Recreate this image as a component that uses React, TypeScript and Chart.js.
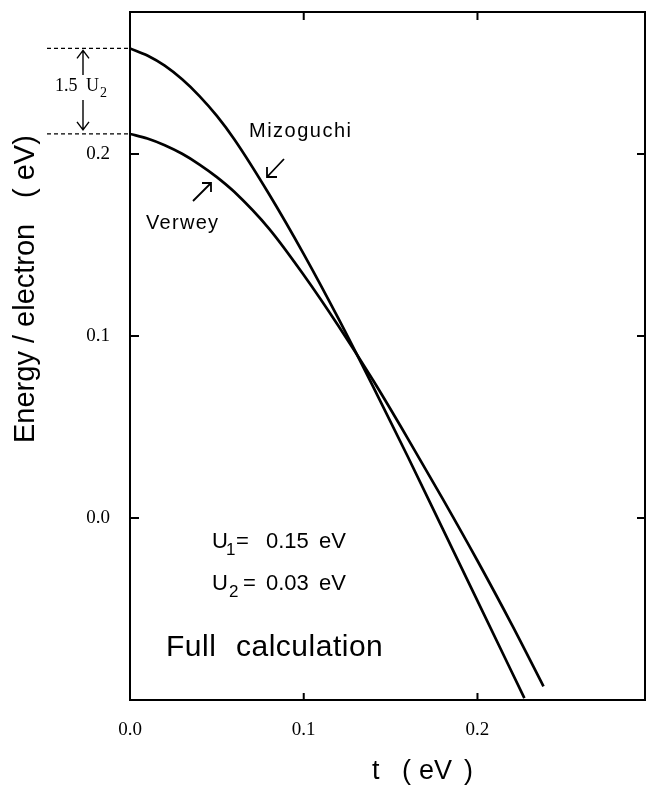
import { useEffect, useRef } from 'react';
import { Chart, registerables } from 'chart.js';

Chart.register(...registerables);

// ---- data ----
const mizoguchiT = [0, 0.01, 0.02, 0.03, 0.04, 0.05, 0.06, 0.08, 0.1, 0.12, 0.14, 0.16, 0.18, 0.2, 0.227];
const mizoguchiE = [0.258, 0.2541, 0.2485, 0.241, 0.2318, 0.2209, 0.2081, 0.178, 0.145, 0.1095, 0.072, 0.0335, -0.006, -0.0455, -0.099];
const verweyT = [0, 0.01, 0.02, 0.03, 0.04, 0.05, 0.06, 0.08, 0.1, 0.12, 0.14, 0.16, 0.18, 0.2, 0.22, 0.238];
const verweyE = [0.211, 0.2085, 0.2048, 0.2001, 0.1942, 0.1873, 0.1792, 0.159, 0.1335, 0.1055, 0.0755, 0.0435, 0.0105, -0.0235, -0.059, -0.0925];

const xTickValues = [0, 0.1, 0.2];
const xTickLabels = ['0.0', '0.1', '0.2'];
const yTickValues = [0, 0.1, 0.2];
const yTickLabels = ['0.0', '0.1', '0.2'];

const X_MIN = 0;
const X_MAX = 0.297;
const Y_MIN = -0.1;
const Y_MAX = 0.278;

const SANS = '"Liberation Sans", Arial, Helvetica, sans-serif';
const SERIF = '"Liberation Serif", "Times New Roman", serif';

function toPoints(xs: number[], ys: number[]) {
  return xs.map((x, i) => ({ x, y: ys[i] }));
}

const decorPlugin = {
  id: 'decor',
  afterDraw(chart: any) {
    const ctx: CanvasRenderingContext2D = chart.ctx;
    const { left, right, top, bottom } = chart.chartArea;
    const xs = chart.scales.x;
    const ys = chart.scales.y;
    ctx.save();
    ctx.strokeStyle = '#000';
    ctx.fillStyle = '#000';
    ctx.lineCap = 'butt';

    // frame: top & right
    ctx.lineWidth = 2;
    ctx.beginPath();
    ctx.moveTo(left - 1, top);
    ctx.lineTo(right - 1, top);
    ctx.lineTo(right - 1, bottom);
    ctx.stroke();

    // inward tick marks
    ctx.lineWidth = 2;
    ctx.beginPath();
    xTickValues.forEach((v) => {
      const px = xs.getPixelForValue(v);
      if (v !== 0) {
        ctx.moveTo(px, bottom);
        ctx.lineTo(px, bottom - 7);
        ctx.moveTo(px, top);
        ctx.lineTo(px, top + 8);
      }
    });
    yTickValues.forEach((v) => {
      const py = ys.getPixelForValue(v);
      ctx.moveTo(left, py);
      ctx.lineTo(left + 9, py);
      ctx.moveTo(right - 1, py);
      ctx.lineTo(right - 9, py);
    });
    ctx.stroke();

    // dashed guide lines at the curve starts
    const yM = ys.getPixelForValue(mizoguchiE[0]);
    const yV = ys.getPixelForValue(verweyE[0]);
    ctx.lineWidth = 1.3;
    ctx.setLineDash([4, 3]);
    ctx.beginPath();
    ctx.moveTo(47, yM);
    ctx.lineTo(left - 2, yM);
    ctx.moveTo(47, yV);
    ctx.lineTo(left - 2, yV);
    ctx.stroke();
    ctx.setLineDash([]);

    // 1.5 U2 arrows
    const ax = 83;
    ctx.lineWidth = 1.4;
    ctx.beginPath();
    ctx.moveTo(ax, 75);
    ctx.lineTo(ax, yM + 2);
    ctx.moveTo(ax - 6, yM + 10);
    ctx.lineTo(ax, yM + 2);
    ctx.lineTo(ax + 6, yM + 10);
    ctx.moveTo(ax, 100);
    ctx.lineTo(ax, yV - 4);
    ctx.moveTo(ax - 6, yV - 12);
    ctx.lineTo(ax, yV - 4);
    ctx.lineTo(ax + 6, yV - 12);
    ctx.stroke();

    ctx.textAlign = 'left';
    ctx.textBaseline = 'alphabetic';
    ctx.font = `18px ${SERIF}`;
    ctx.fillText('1.5', 55, 91);
    ctx.fillText('U', 86, 91);
    ctx.font = `14px ${SERIF}`;
    ctx.fillText('2', 100, 97);

    // curve labels and arrows
    const setLS = (v: string) => {
      try { (ctx as any).letterSpacing = v; } catch (e) { /* ignore */ }
    };
    ctx.font = `20px ${SANS}`;
    setLS('1.5px');
    ctx.fillText('Mizoguchi', 249, 137);
    setLS('1.3px');
    ctx.fillText('Verwey', 146, 229);
    setLS('0px');

    ctx.lineWidth = 1.8;
    ctx.beginPath();
    // Mizoguchi arrow (down-left)
    ctx.moveTo(284, 159);
    ctx.lineTo(267, 177);
    ctx.moveTo(267, 167);
    ctx.lineTo(267, 177);
    ctx.lineTo(277, 177);
    // Verwey arrow (up-right)
    ctx.moveTo(193, 201);
    ctx.lineTo(211, 183);
    ctx.moveTo(202, 183);
    ctx.lineTo(211, 183);
    ctx.lineTo(211, 192);
    ctx.stroke();

    // parameters
    ctx.font = `22px ${SANS}`;
    ctx.fillText('U', 212, 548);
    ctx.fillText('=', 236, 548);
    ctx.fillText('0.15', 266, 548);
    ctx.fillText('eV', 319, 548);
    ctx.fillText('U', 212, 590);
    ctx.fillText('=', 243, 590);
    ctx.fillText('0.03', 266, 590);
    ctx.fillText('eV', 319, 590);
    ctx.font = `17px ${SANS}`;
    ctx.fillText('1', 226, 555);
    ctx.fillText('2', 229, 597);

    ctx.font = `30px ${SANS}`;
    setLS('0.5px');
    ctx.fillText('Full', 166, 656);
    ctx.fillText('calculation', 236, 656);
    setLS('0px');

    // x axis title
    ctx.font = `27px ${SANS}`;
    ctx.fillText('t', 372, 779);
    ctx.fillText('(', 402, 779);
    ctx.fillText('eV', 419, 779);
    ctx.fillText(')', 464, 779);

    // y axis title (rotated)
    ctx.save();
    ctx.translate(34, 443);
    ctx.rotate(-Math.PI / 2);
    ctx.font = `29px ${SANS}`;
    ctx.fillText('Energy / electron', 0, 0);
    ctx.fillText('( eV)', 443 - 198, 0);
    ctx.restore();

    ctx.restore();
  },
};

export default function App() {
  const ref = useRef<HTMLCanvasElement | null>(null);

  useEffect(() => {
    if (!ref.current) return;
    const chart = new Chart(ref.current, {
      type: 'scatter',
      data: {
        datasets: [
          {
            label: 'Mizoguchi',
            data: toPoints(mizoguchiT, mizoguchiE),
            showLine: true,
            borderColor: '#000',
            borderWidth: 2.7,
            pointRadius: 0,
            cubicInterpolationMode: 'monotone',
          },
          {
            label: 'Verwey',
            data: toPoints(verweyT, verweyE),
            showLine: true,
            borderColor: '#000',
            borderWidth: 2.7,
            pointRadius: 0,
            cubicInterpolationMode: 'monotone',
          },
        ],
      },
      options: {
        responsive: false,
        animation: false,
        devicePixelRatio: 1,
        layout: { padding: { top: 12, left: 0, right: 0, bottom: 0 } },
        plugins: {
          legend: { display: false },
          tooltip: { enabled: false },
          title: { display: false },
        },
        scales: {
          x: {
            type: 'linear',
            min: X_MIN,
            max: X_MAX,
            grid: { display: false },
            border: { display: true, color: '#000', width: 2 },
            afterBuildTicks: (s: any) => {
              s.ticks = xTickValues.map((v) => ({ value: v }));
            },
            afterFit: (s: any) => {
              s.height = 86;
              s.paddingLeft = 0;
              s.paddingRight = 0;
              s.paddingTop = 0;
              s.paddingBottom = 0;
            },
            ticks: {
              autoSkip: false,
              maxRotation: 0,
              padding: 11,
              color: '#000',
              font: { family: SERIF, size: 19 },
              callback: (v: any) => {
                const i = xTickValues.indexOf(Number(v));
                return i >= 0 ? xTickLabels[i] : '';
              },
            },
          },
          y: {
            type: 'linear',
            min: Y_MIN,
            max: Y_MAX,
            grid: { display: false },
            border: { display: true, color: '#000', width: 2 },
            afterBuildTicks: (s: any) => {
              s.ticks = yTickValues.map((v) => ({ value: v }));
            },
            afterFit: (s: any) => {
              s.width = 130;
              s.paddingLeft = 0;
              s.paddingRight = 0;
              s.paddingTop = 0;
              s.paddingBottom = 0;
            },
            ticks: {
              autoSkip: false,
              padding: 12,
              color: '#000',
              font: { family: SERIF, size: 19 },
              callback: (v: any) => {
                const i = yTickValues.indexOf(Number(v));
                return i >= 0 ? yTickLabels[i] : '';
              },
            },
          },
        },
      } as any,
      plugins: [decorPlugin],
    });
    return () => chart.destroy();
  }, []);

  return (
    <div style={{ position: 'fixed', left: 0, top: 0, width: 646, height: 786, background: '#fff' }}>
      <canvas ref={ref} width={646} height={786} style={{ display: 'block' }} />
    </div>
  );
}
